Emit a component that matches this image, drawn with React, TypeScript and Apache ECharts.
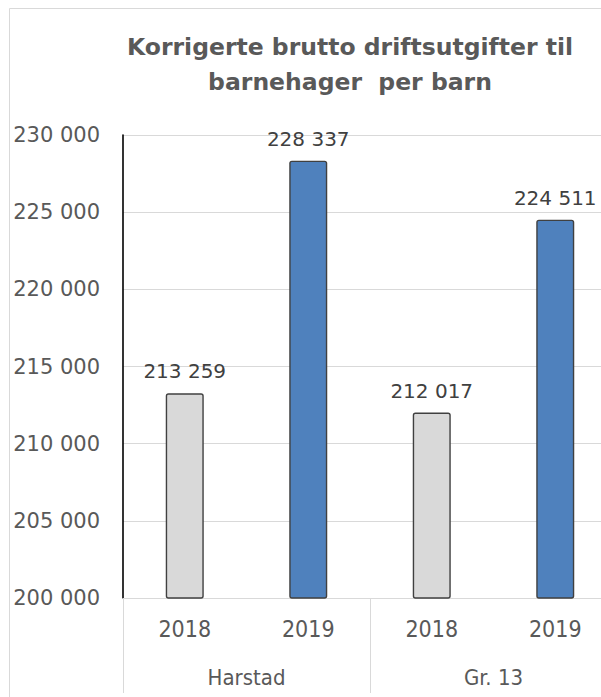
import React, { useEffect, useRef } from "react";
import * as echarts from "echarts";

const years = ["2018", "2019", "2018", "2019"];
const groups = ["Harstad", "Gr. 13"];
const values = [213259, 228337, 212017, 224511];
const yMin = 200000;
const yMax = 230000;
const yStep = 5000;
const titleText = "Korrigerte brutto driftsutgifter til\nbarnehager  per barn";

const yearColors: Record<string, string> = { "2018": "#D9D9D9", "2019": "#4F81BD" };

const fmt = (v: number) => String(v).replace(/\B(?=(\d{3})+(?!\d))/g, " ");
const FONT = "DejaVu Sans";
const FONT_C = "DejaVu Sans Condensed";

export default function App() {
  const ref = useRef<HTMLDivElement>(null);
  useEffect(() => {
    if (!ref.current) return;
    const chart = echarts.init(ref.current, undefined, { renderer: "svg" });
    chart.setOption({
      animation: false,
      backgroundColor: "#ffffff",
      title: {
        text: titleText,
        left: 341,
        top: 21,
        textAlign: "center",
        padding: 0,
        textStyle: {
          fontFamily: FONT,
          fontSize: 23.5,
          fontWeight: "bold",
          lineHeight: 35,
          color: "#595959",
        },
      },
      graphic: [
        {
          type: "rect",
          shape: { x: 0.5, y: 0.5, width: 2000, height: 2000 },
          style: { fill: "none", stroke: "#D9D9D9", lineWidth: 1 },
          silent: true,
          z: 100,
        },
      ],
      grid: { left: 114, top: 127, width: 494, height: 463, containLabel: false },
      xAxis: [
        {
          type: "category",
          data: years,
          position: "bottom",
          axisLine: { show: true, lineStyle: { color: "#D9D9D9", width: 1 } },
          axisTick: { show: false },
          axisLabel: {
            interval: 0,
            margin: 19.5,
            fontFamily: FONT_C,
            fontSize: 23,
            color: "#595959",
          },
          splitLine: { show: false },
        },
        {
          type: "category",
          data: groups,
          position: "bottom",
          offset: 0,
          axisLine: { show: false },
          axisTick: {
            show: true,
            interval: 0,
            length: 95,
            lineStyle: { color: "#D9D9D9", width: 1 },
          },
          axisLabel: {
            interval: 0,
            margin: 68,
            fontFamily: FONT_C,
            fontSize: 22,
            color: "#595959",
          },
          splitLine: { show: false },
        },
      ],
      yAxis: {
        type: "value",
        min: yMin,
        max: yMax,
        interval: yStep,
        axisLine: { show: true, lineStyle: { color: "#000000", width: 1.6 } },
        axisTick: { show: false },
        axisLabel: {
          margin: 23,
          fontFamily: FONT,
          fontSize: 21,
          color: "#595959",
          formatter: (v: number) => fmt(v),
        },
        splitLine: { show: true, lineStyle: { color: "#D9D9D9", width: 1 } },
      },
      series: [
        {
          type: "bar",
          xAxisIndex: 0,
          barWidth: 38,
          data: values.map((v, i) => ({
            value: v,
            itemStyle: {
              color: yearColors[years[i]],
              borderColor: "#404040",
              borderWidth: 1.4,
              borderRadius: 2,
            },
          })),
          label: {
            show: true,
            position: "top",
            distance: 12,
            fontFamily: FONT,
            fontSize: 20,
            lineHeight: 20,
            color: "#404040",
            formatter: (p: any) => fmt(p.value),
          },
        },
      ],
    });
    return () => chart.dispose();
  }, []);
  return (
    <div
      style={{
        position: "fixed",
        left: 9,
        top: 8,
        width: 592,
        height: 689,
        overflow: "hidden",
        background: "#fff",
      }}
    >
      <div ref={ref} style={{ width: 640, height: 720 }} />
    </div>
  );
}
